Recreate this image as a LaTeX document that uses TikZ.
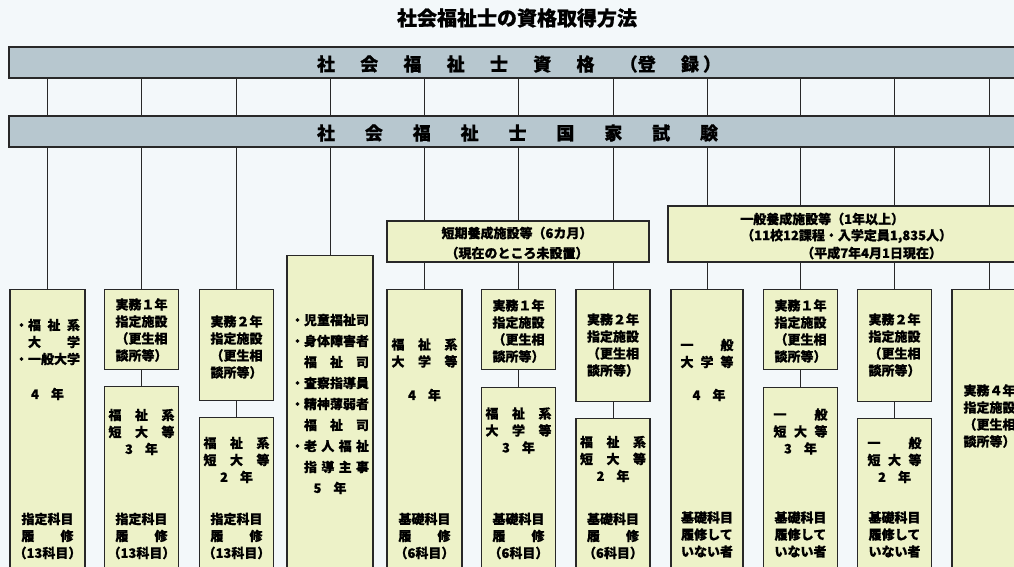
\documentclass[tikz,border=0pt]{standalone}
\usepackage{fontspec}
\setmainfont{Noto Sans CJK JP}[BoldFeatures={FakeBold=0.6}]
\definecolor{bgc}{RGB}{243,248,250}
\definecolor{barc}{RGB}{183,199,207}
\definecolor{boxc}{RGB}{237,242,200}
\definecolor{linec}{RGB}{40,40,40}
\newcommand{\sprd}[2]{\makebox[#1][s]{#2}}
\tikzset{
  bar/.style={draw=linec, line width=1.6pt, fill=barc, minimum width=1031pt, minimum height=31pt, inner sep=0pt},
  cbox/.style={draw=linec, line width=1.2pt, fill=boxc, inner sep=0pt, minimum width=74pt, anchor=north},
  hbox/.style={draw=linec, line width=1.2pt, fill=boxc, inner sep=0pt},
  conn/.style={draw=linec, line width=1pt},
  lbl/.style={font=\bfseries\fontsize{13}{17}\selectfont, align=center, inner sep=0pt},
  bartxt/.style={font=\bfseries\fontsize{18}{20}\selectfont, inner sep=0pt},
}
\begin{document}
\begin{tikzpicture}[x=1pt,y=-1pt]
\useasboundingbox (0,0) rectangle (1014,567);
\clip (0,0) rectangle (1014,567);
\fill[bgc] (0,0) rectangle (1014,567);

% title
\node[font=\bfseries\fontsize{20}{22}\selectfont, inner sep=0pt] (title) at (517,18) {社会福祉士の資格取得方法};

% bars
\node[bar] (reg) at (524.5,62.5) {};
\node[bartxt] (regt) at (519,64) {\sprd{404pt}{社\hfill 会\hfill 福\hfill 祉\hfill 士\hfill 資\hfill 格\hfill （登\hfill 録\hspace{4pt}）}};
\node[bar] (exam) at (524.5,131.5) {};
\node[bartxt] (examt) at (517.5,133) {\sprd{401pt}{社\hfill 会\hfill 福\hfill 祉\hfill 士\hfill 国\hfill 家\hfill 試\hfill 験}};

% column coordinates
\foreach \n/\x in {1/47.5,2/141.5,3/236.5,4/330,5/424.5,6/518.5,7/613,8/707,9/800.5,10/894.5,11/989}
  \coordinate (c\n) at (\x,0);

% heading boxes
\node[hbox, minimum width=262pt, minimum height=41pt] (tanki) at (518,241.5) {};
\node[lbl, font=\bfseries\fontsize{13}{20}\selectfont] (tankit) at (517,243) {短期養成施設等（6カ月）\\（現在のところ未設置）};
\node[hbox, minimum width=362pt, minimum height=56pt] (ippan) at (849,234) {};
\node[lbl, anchor=west] (ippt1) at (740,219) {一般養成施設等（1年以上）};
\node[lbl, anchor=west] (ippt2) at (741,236) {（11校12課程・入学定員1,835人）};
\node[lbl, anchor=west] (ippt3) at (801,253) {（平成7年4月1日現在）};

% boxes
\node[cbox, minimum width=75pt, minimum height=300pt] (b1) at (47.5,289) {};
\node[cbox, minimum height=80pt] (b2) at (141.5,289) {};
\node[cbox, minimum height=200pt] (b2b) at (141.5,386) {};
\node[cbox, minimum height=111pt] (b3) at (236.5,289) {};
\node[cbox, minimum height=200pt] (b3b) at (236.5,417) {};
\node[cbox, minimum width=86pt, minimum height=330pt] (b4) at (330,255) {};
\node[cbox, minimum width=75pt, minimum height=300pt] (b5) at (424.5,289) {};
\node[cbox, minimum height=80pt] (b6) at (518.5,289) {};
\node[cbox, minimum height=200pt] (b6b) at (518.5,387) {};
\node[cbox, minimum height=112pt] (b7) at (613,289) {};
\node[cbox, minimum height=200pt] (b7b) at (613,418) {};
\node[cbox, minimum width=72pt, minimum height=300pt] (b8) at (707,289) {};
\node[cbox, minimum height=80pt] (b9) at (800.5,289) {};
\node[cbox, minimum height=200pt] (b9b) at (800.5,387) {};
\node[cbox, minimum height=112pt] (b10) at (894.5,289) {};
\node[cbox, minimum height=200pt] (b10b) at (894.5,418) {};
\node[cbox, minimum height=300pt] (b11) at (989,289) {};

% connectors
\foreach \n in {1,...,11}
  \draw[conn] (reg.south -| c\n) -- (exam.north -| c\n);
\foreach \b in {b1,b2,b3,b4}
  \draw[conn] (exam.south -| \b.north) -- (\b.north);
\foreach \n/\b in {5/b5,6/b6,7/b7} {
  \draw[conn] (exam.south -| c\n) -- (tanki.north -| c\n);
  \draw[conn] (tanki.south -| \b.north) -- (\b.north);
}
\foreach \n/\b in {8/b8,9/b9,10/b10,11/b11} {
  \draw[conn] (exam.south -| c\n) -- (ippan.north -| c\n);
  \draw[conn] (ippan.south -| \b.north) -- (\b.north);
}
\foreach \a/\b in {b2/b2b,b3/b3b,b6/b6b,b7/b7b,b9/b9b,b10/b10b}
  \draw[conn] (\a.south) -- (\b.north);

% texts: column 1
\node[lbl, align=left] (t1a) at (47.5,342) {・\sprd{52pt}{福\hfill 祉\hfill 系}\\ \hspace*{13pt}\sprd{52pt}{大\hfill 学}\\ ・一般大学};
\node[lbl] (t1b) at (47.5,394) {4\hspace{12pt}年};
\node[lbl] (t1c) at (47.5,536) {指定科目\\ \sprd{52pt}{履\hfill 修}\\ （13科目）};
% column 2
\node[lbl] (t2a) at (141.5,330) {実務１年\\ 指定施設\\ （更生相\\ 談所等）};
\node[lbl] (t2b) at (141.5,432) {\sprd{66pt}{福\hfill 祉\hfill 系}\\ \sprd{66pt}{短\hfill 大\hfill 等}\\ 3\hspace{12pt}年};
\node[lbl] (t2c) at (141.5,536) {指定科目\\ \sprd{52pt}{履\hfill 修}\\ （13科目）};
% column 3
\node[lbl] (t3a) at (236.5,347) {実務２年\\ 指定施設\\ （更生相\\ 談所等）};
\node[lbl] (t3b) at (236.5,460) {\sprd{66pt}{福\hfill 祉\hfill 系}\\ \sprd{66pt}{短\hfill 大\hfill 等}\\ 2\hspace{12pt}年};
\node[lbl] (t3c) at (236.5,536) {指定科目\\ \sprd{52pt}{履\hfill 修}\\ （13科目）};
% column 4
\node[lbl, align=left, font=\bfseries\fontsize{13}{21}\selectfont] (t4) at (330,404) {・児童福祉司\\ ・身体障害者\\ \hspace*{13pt}\sprd{65pt}{福\hfill 祉\hfill 司}\\ ・査察指導員\\ ・精神薄弱者\\ \hspace*{13pt}\sprd{65pt}{福\hfill 祉\hfill 司}\\ ・\sprd{65pt}{老\hfill 人\hfill 福\hfill 祉}\\ \hspace*{13pt}\sprd{65pt}{指\hfill 導\hfill 主\hfill 事}\\ \makebox[78pt]{5\hspace{12pt}年}};
% column 5
\node[lbl] (t5a) at (424.5,353) {\sprd{66pt}{福\hfill 祉\hfill 系}\\ \sprd{66pt}{大\hfill 学\hfill 等}};
\node[lbl] (t5b) at (424.5,395) {4\hspace{12pt}年};
\node[lbl] (t5c) at (424.5,536) {基礎科目\\ \sprd{52pt}{履\hfill 修}\\ （6科目）};
% column 6
\node[lbl] (t6a) at (518.5,331) {実務１年\\ 指定施設\\ （更生相\\ 談所等）};
\node[lbl] (t6b) at (518.5,430.5) {\sprd{66pt}{福\hfill 祉\hfill 系}\\ \sprd{66pt}{大\hfill 学\hfill 等}\\ 3\hspace{12pt}年};
\node[lbl] (t6c) at (518.5,536) {基礎科目\\ \sprd{52pt}{履\hfill 修}\\ （6科目）};
% column 7
\node[lbl] (t7a) at (613,345) {実務２年\\ 指定施設\\ （更生相\\ 談所等）};
\node[lbl] (t7b) at (613,459) {\sprd{66pt}{福\hfill 祉\hfill 系}\\ \sprd{66pt}{短\hfill 大\hfill 等}\\ 2\hspace{12pt}年};
\node[lbl] (t7c) at (613,536) {基礎科目\\ \sprd{52pt}{履\hfill 修}\\ （6科目）};
% column 8
\node[lbl] (t8a) at (707,353.5) {\sprd{53pt}{一\hfill 般}\\ \sprd{53pt}{大\hfill 学\hfill 等}};
\node[lbl] (t8b) at (709,395) {4\hspace{12pt}年};
\node[lbl] (t8c) at (707,534.5) {基礎科目\\ 履修して\\ いない者};
% column 9
\node[lbl] (t9a) at (800.5,331) {実務１年\\ 指定施設\\ （更生相\\ 談所等）};
\node[lbl] (t9b) at (800.5,431.5) {\sprd{54pt}{一\hfill 般}\\ \sprd{54pt}{短\hfill 大\hfill 等}\\ 3\hspace{12pt}年};
\node[lbl] (t9c) at (800.5,534.5) {基礎科目\\ 履修して\\ いない者};
% column 10
\node[lbl] (t10a) at (894.5,345) {実務２年\\ 指定施設\\ （更生相\\ 談所等）};
\node[lbl] (t10b) at (894.5,460) {\sprd{54pt}{一\hfill 般}\\ \sprd{54pt}{短\hfill 大\hfill 等}\\ 2\hspace{12pt}年};
\node[lbl] (t10c) at (894.5,534.5) {基礎科目\\ 履修して\\ いない者};
% column 11
\node[lbl] (t11) at (989.5,416) {実務４年\\ 指定施設\\ （更生相\\ 談所等）};
\end{tikzpicture}
\end{document}
